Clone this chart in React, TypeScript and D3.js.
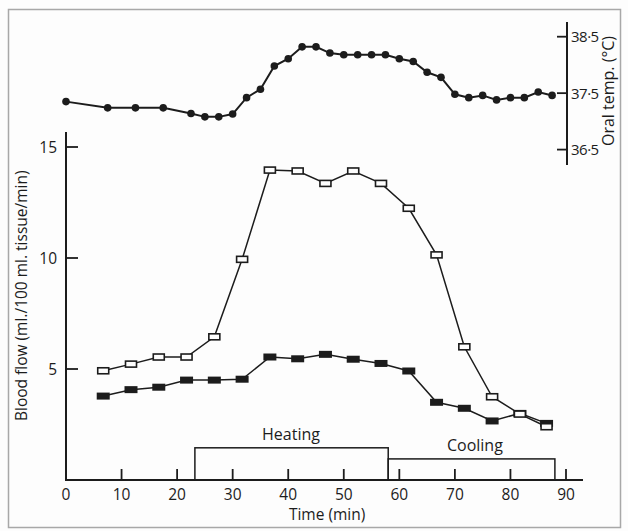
import React from "react";
import * as d3 from "d3";

const tempTimes = [0, 7.5, 12.5, 17.5, 22.5, 25, 27.5, 30, 32.5, 35, 37.5, 40, 42.5, 45, 47.5, 50, 52.5, 55, 57.5, 60, 62.5, 65, 67.5, 70, 72.5, 75, 77.5, 80, 82.5, 85, 87.5];
const tempValues = [37.35, 37.24, 37.24, 37.24, 37.14, 37.08, 37.08, 37.13, 37.42, 37.57, 37.98, 38.11, 38.32, 38.32, 38.21, 38.18, 38.18, 38.18, 38.18, 38.11, 38.06, 37.87, 37.78, 37.48, 37.42, 37.46, 37.38, 37.42, 37.42, 37.52, 37.46];

const flowTimes = [6.7, 11.7, 16.7, 21.7, 26.7, 31.7, 36.7, 41.7, 46.7, 51.7, 56.7, 61.7, 66.7, 71.7, 76.7, 81.7, 86.5];
const openFlow = [4.92, 5.22, 5.54, 5.54, 6.45, 9.94, 13.96, 13.92, 13.36, 13.92, 13.36, 12.24, 10.14, 6.0, 3.75, 2.97, 2.4];
const filledFlow = [3.78, 4.07, 4.18, 4.5, 4.5, 4.54, 5.54, 5.46, 5.66, 5.44, 5.25, 4.91, 3.5, 3.23, 2.66, 3.0, 2.55];

const xTicks = [0, 10, 20, 30, 40, 50, 60, 70, 80, 90];
const flowTicks = [5, 10, 15];
const tempTicks = [36.5, 37.5, 38.5];
const tempTickLabels = ["36·5", "37·5", "38·5"];

const heatingPeriod = [23.2, 58.0];
const coolingPeriod = [58.0, 88.0];
const heatingLevel = 1.45;
const coolingLevel = 0.95;

const FONT = "'Open Sans', Lato, sans-serif";
const INK = "#1c1c1c";

export default function App() {
  const x = d3.scaleLinear().domain([0, 90]).range([66, 566]);
  const y = d3.scaleLinear().domain([0, 15]).range([480, 147]);
  const yt = d3.scaleLinear().domain([36.5, 38.5]).range([149.6, 36.7]);

  const tempData = tempTimes.map((t, i) => [t, tempValues[i]] as [number, number]);
  const openData = flowTimes.map((t, i) => [t, openFlow[i]] as [number, number]);
  const filledData = flowTimes.map((t, i) => [t, filledFlow[i]] as [number, number]);

  const tempLine = d3.line<[number, number]>().x((d) => x(d[0])).y((d) => yt(d[1]));
  const flowLine = d3.line<[number, number]>().x((d) => x(d[0])).y((d) => y(d[1]));

  const axisRight = x(90) + 17;

  return (
    <svg
      width={628}
      height={531}
      style={{ position: "absolute", left: 0, top: 0, background: "#fdfdfd" }}
      fontFamily={FONT}
      fontWeight={500}
    >
      <rect x={8.5} y={9.5} width={612} height={518} fill="#fdfdfd" stroke="#a8a8a8" strokeWidth={1.5} />

      {/* Temperature axis (right) */}
      <line x1={x(90) + 1} x2={x(90) + 1} y1={22} y2={165} stroke={INK} strokeWidth={2} />
      {tempTicks.map((t, i) => (
        <g key={t}>
          <line x1={x(90) - 9} x2={x(90) + 1} y1={yt(t)} y2={yt(t)} stroke={INK} strokeWidth={1.8} />
          <text x={x(90) + 5} y={yt(t) + 5.5} fontSize={15} fill={INK} letterSpacing={-0.5}>
            {tempTickLabels[i]}
          </text>
        </g>
      ))}
      <text
        transform={`translate(${x(90) + 47.5},91) rotate(-90)`}
        textAnchor="middle"
        fontSize={16}
        fill={INK}
      >
        Oral temp. (°C)
      </text>

      {/* Temperature series */}
      <path d={tempLine(tempData) || ""} fill="none" stroke={INK} strokeWidth={2} />
      {tempData.map((d, i) => (
        <circle key={i} cx={x(d[0])} cy={yt(d[1])} r={3.8} fill={INK} />
      ))}

      {/* Blood flow axes */}
      <line x1={x(0)} x2={x(0)} y1={132} y2={y(0) + 1} stroke={INK} strokeWidth={2} />
      <line x1={x(0) - 1} x2={axisRight} y1={y(0)} y2={y(0)} stroke={INK} strokeWidth={2} />
      {flowTicks.map((v) => (
        <g key={v}>
          <line x1={x(0)} x2={x(0) + 12} y1={y(v)} y2={y(v)} stroke={INK} strokeWidth={1.8} />
          <text x={x(0) - 9} y={y(v) + 6} fontSize={15.5} textAnchor="end" fill={INK}>
            {v}
          </text>
        </g>
      ))}
      {xTicks.map((t) => (
        <g key={t}>
          {t > 0 && <line x1={x(t)} x2={x(t)} y1={y(0)} y2={y(0) - 11} stroke={INK} strokeWidth={1.8} />}
          <text x={x(t)} y={y(0) + 20} fontSize={15.5} textAnchor="middle" fill={INK}>
            {t}
          </text>
        </g>
      ))}
      <text x={x(47)} y={y(0) + 40} fontSize={15.5} textAnchor="middle" fill={INK}>
        Time (min)
      </text>
      <text
        transform={`translate(27,${y(8.3)}) rotate(-90)`}
        textAnchor="middle"
        fontSize={15.5}
        fill={INK}
      >
        Blood flow (ml./100 ml. tissue/min)
      </text>

      {/* Heating / cooling bars */}
      <rect
        x={x(heatingPeriod[0])}
        y={y(heatingLevel)}
        width={x(heatingPeriod[1]) - x(heatingPeriod[0])}
        height={y(0) - y(heatingLevel)}
        fill="none"
        stroke={INK}
        strokeWidth={1.5}
      />
      <rect
        x={x(coolingPeriod[0])}
        y={y(coolingLevel)}
        width={x(coolingPeriod[1]) - x(coolingPeriod[0])}
        height={y(0) - y(coolingLevel)}
        fill="none"
        stroke={INK}
        strokeWidth={1.5}
      />
      <text x={x(40.5)} y={y(heatingLevel) - 8} fontSize={16} textAnchor="middle" fill={INK}>
        Heating
      </text>
      <text x={x(73.6)} y={y(coolingLevel) - 8} fontSize={16} textAnchor="middle" fill={INK}>
        Cooling
      </text>

      {/* Flow series */}
      <path d={flowLine(openData) || ""} fill="none" stroke={INK} strokeWidth={1.5} />
      <path d={flowLine(filledData) || ""} fill="none" stroke={INK} strokeWidth={1.5} />
      {filledData.map((d, i) => (
        <rect key={`f${i}`} x={x(d[0]) - 6.5} y={y(d[1]) - 3.5} width={13} height={7} fill={INK} />
      ))}
      {openData.map((d, i) => (
        <rect
          key={`o${i}`}
          x={x(d[0]) - 5.5}
          y={y(d[1]) - 3}
          width={11}
          height={6}
          fill="#fdfdfd"
          stroke={INK}
          strokeWidth={1.6}
        />
      ))}
    </svg>
  );
}
